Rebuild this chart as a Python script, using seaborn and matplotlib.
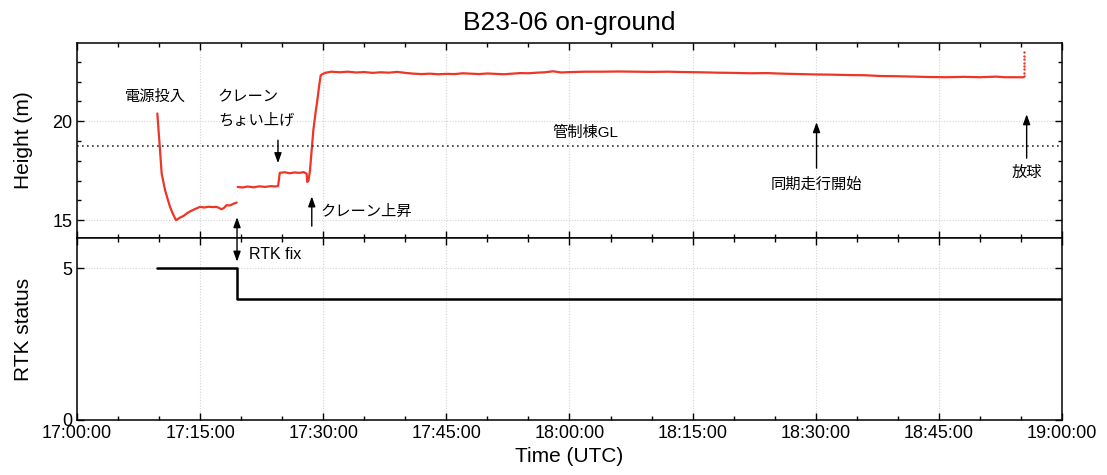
import numpy as np
import pandas as pd
import matplotlib
matplotlib.use("Agg")
import matplotlib.pyplot as plt
import matplotlib.dates as mdates
from matplotlib.ticker import MultipleLocator
import seaborn as sns

# ---------------- data (minutes after 17:00:00 UTC) ----------------
seg1_t = [9.78, 10.02, 10.31, 10.72, 11.05, 11.33, 11.7, 12.06, 12.5, 13.0, 13.36, 13.8,
          14.3, 14.98, 15.5, 16.0, 16.5, 17.0, 17.3, 17.6, 17.9, 18.23, 18.6, 19.0, 19.45]
seg1_h = [20.39, 19.04, 17.36, 16.52, 16.05, 15.67, 15.30, 15.00, 15.12, 15.22, 15.34, 15.45,
          15.55, 15.67, 15.64, 15.68, 15.66, 15.67, 15.62, 15.55, 15.62, 15.76, 15.74, 15.82, 15.89]

seg2_t = [19.57, 20.14, 20.8, 21.5, 22.2, 22.9, 23.6, 24.2, 24.5, 24.7, 25.3, 25.9, 26.5,
          27.16, 27.6, 27.97, 28.05, 28.2, 28.38, 28.6, 28.79, 29.05, 29.28, 29.5, 29.69,
          30.2, 31, 32, 33, 34, 35, 36, 37, 38, 39, 40, 41, 42, 43, 44, 45, 46, 47, 48, 49,
          50, 51, 52, 53, 54, 55, 56, 57, 58, 59, 60, 62, 64, 66, 68, 70, 72, 74, 76, 78,
          80, 82, 84, 86, 88, 90, 92, 94, 96, 98, 100, 102, 104, 106, 108, 110, 112, 113, 115.3]
seg2_h = [16.68, 16.65, 16.70, 16.66, 16.71, 16.68, 16.72, 16.70, 16.73, 17.39, 17.42, 17.37,
          17.41, 17.39, 17.43, 17.35, 16.93, 17.00, 17.50, 18.60, 19.55, 20.40, 21.06, 21.80, 22.32,
          22.44, 22.50, 22.47, 22.50, 22.46, 22.48, 22.44, 22.47, 22.45, 22.49, 22.44, 22.40, 22.38,
          22.40, 22.37, 22.39, 22.38, 22.42, 22.40, 22.38, 22.41, 22.39, 22.37, 22.40, 22.43, 22.42,
          22.45, 22.47, 22.52, 22.46, 22.48, 22.50, 22.50, 22.51, 22.50, 22.49, 22.50, 22.48, 22.47,
          22.45, 22.44, 22.42, 22.43, 22.40, 22.38, 22.36, 22.35, 22.33, 22.32, 22.28, 22.27, 22.25,
          22.23, 22.22, 22.24, 22.22, 22.25, 22.22, 22.22]

launch_t = [115.35, 115.35, 115.36, 115.36, 115.37, 115.37, 115.38, 115.38]
launch_h = [22.30, 22.45, 22.62, 22.78, 22.95, 23.12, 23.30, 23.50]

rtk_t = [9.78, 19.49, 120.0]
rtk_v = [5, 4, 4]

gl_height = 18.75

base = pd.Timestamp("2023-01-01 17:00:00")
def to_dt(mins):
    return [base + pd.Timedelta(minutes=m) for m in mins]

df1 = pd.DataFrame({"time": to_dt(seg1_t), "h": seg1_h})
df2 = pd.DataFrame({"time": to_dt(seg2_t), "h": seg2_h})
dfl = pd.DataFrame({"time": to_dt(launch_t), "h": launch_h})
dfr = pd.DataFrame({"time": to_dt(rtk_t), "v": rtk_v})

# ---------------- style ----------------
sns.set_theme(style="white")
plt.rcParams["font.family"] = ["Liberation Sans", "Noto Sans CJK JP", "DejaVu Sans"]
plt.rcParams["axes.edgecolor"] = "black"
plt.rcParams["axes.linewidth"] = 1.1
plt.rcParams["text.color"] = "black"
plt.rcParams["axes.labelcolor"] = "black"
plt.rcParams["xtick.color"] = "black"
plt.rcParams["ytick.color"] = "black"

red = "#ee3526"

fig, (ax1, ax2) = plt.subplots(2, 1, sharex=True, figsize=(11.07, 4.75), dpi=100,
                               gridspec_kw={"height_ratios": [195, 182]})
fig.subplots_adjust(left=0.0696, right=0.9593, top=0.9095, bottom=0.1158, hspace=0)

sns.lineplot(data=df1, x="time", y="h", ax=ax1, color=red, lw=1.6, estimator=None)
sns.lineplot(data=df2, x="time", y="h", ax=ax1, color=red, lw=1.6, estimator=None)
sns.scatterplot(data=dfl, x="time", y="h", ax=ax1, color=red, s=3, edgecolor=None, linewidth=0)
ax1.axhline(gl_height, color="#333333", ls=(0, (1, 2)), lw=1.2)

sns.lineplot(data=dfr, x="time", y="v", ax=ax2, color="black", lw=1.8, estimator=None,
             drawstyle="steps-post")

xmin, xmax = base, base + pd.Timedelta(minutes=120)
ax1.set_xlim(xmin, xmax)
ax1.set_ylim(14.1, 23.95)
ax2.set_ylim(0, 6)

ax1.set_yticks([15, 20])
ax1.yaxis.set_minor_locator(MultipleLocator(1))
ax2.set_yticks([0, 5])

ax2.xaxis.set_major_locator(mdates.MinuteLocator(byminute=[0, 15, 30, 45]))
ax2.xaxis.set_minor_locator(mdates.MinuteLocator(byminute=range(0, 60, 5)))
ax2.xaxis.set_major_formatter(mdates.DateFormatter("%H:%M:%S"))

for ax in (ax1, ax2):
    ax.tick_params(which="both", direction="in", top=True, right=True, left=True, bottom=True,
                   labelsize=13, colors="black")
    ax.tick_params(which="major", length=5, width=1)
    ax.tick_params(which="minor", length=3, width=1)
    ax.grid(True, which="major", color="#d4d4d4", ls=(0, (1, 1.5)), lw=0.8)
    for s in ax.spines.values():
        s.set_visible(True)
        s.set_color("black")
ax1.tick_params(labelbottom=False)

ax1.set_ylabel("Height (m)", fontsize=15)
ax2.set_ylabel("RTK status", fontsize=15)
ax2.set_xlabel("Time (UTC)", fontsize=15)
ax1.set_xlabel("")
ax1.set_title("B23-06 on-ground", fontsize=19, pad=9)
ax1.yaxis.set_label_coords(-0.045, 0.5)
ax2.yaxis.set_label_coords(-0.045, 0.5)

def T(m):
    return mdates.date2num(base + pd.Timedelta(minutes=m))

fs = 11
arrow = dict(arrowstyle="-|>,head_length=0.5,head_width=0.18", color="black", lw=1.0,
             shrinkA=0, shrinkB=0)

ax1.text(T(9.5), 21.21, "電源投入", ha="center", va="center", fontsize=fs)
ax1.text(T(17.17), 21.21, "クレーン", ha="left", va="center", fontsize=fs)
ax1.text(T(17.17), 20.05, "ちょい上げ", ha="left", va="center", fontsize=fs)
ax1.annotate("", xy=(T(24.48), 17.88), xytext=(T(24.48), 19.04), arrowprops=arrow)

ax1.text(T(29.6), 15.4, "クレーン上昇", ha="left", va="center", fontsize=fs)
ax1.annotate("", xy=(T(28.6), 16.2), xytext=(T(28.6), 14.7), arrowprops=arrow)

ax1.text(T(61.9), 19.4, "管制棟GL", ha="center", va="center", fontsize=fs)

ax1.text(T(90.1), 16.82, "同期走行開始", ha="center", va="center", fontsize=fs)
ax1.annotate("", xy=(T(90.1), 19.95), xytext=(T(90.1), 17.63), arrowprops=arrow)

ax1.text(T(115.7), 17.37, "放球", ha="center", va="center", fontsize=fs)
ax1.annotate("", xy=(T(115.7), 20.35), xytext=(T(115.7), 18.13), arrowprops=arrow)

# RTK fix double arrow spanning both panels
darrow = dict(arrowstyle="<|-|>,head_length=0.5,head_width=0.18", color="black", lw=1.0,
              shrinkA=0, shrinkB=0)
ax2.annotate("", xy=(T(19.49), 5.22), xycoords=ax2.transData,
             xytext=(T(19.49), 15.15), textcoords=ax1.transData,
             arrowprops=darrow, annotation_clip=False)
ax2.text(T(20.95), 5.46, "RTK fix", ha="left", va="center", fontsize=11.5)

fig.savefig("out.png", dpi=100)
